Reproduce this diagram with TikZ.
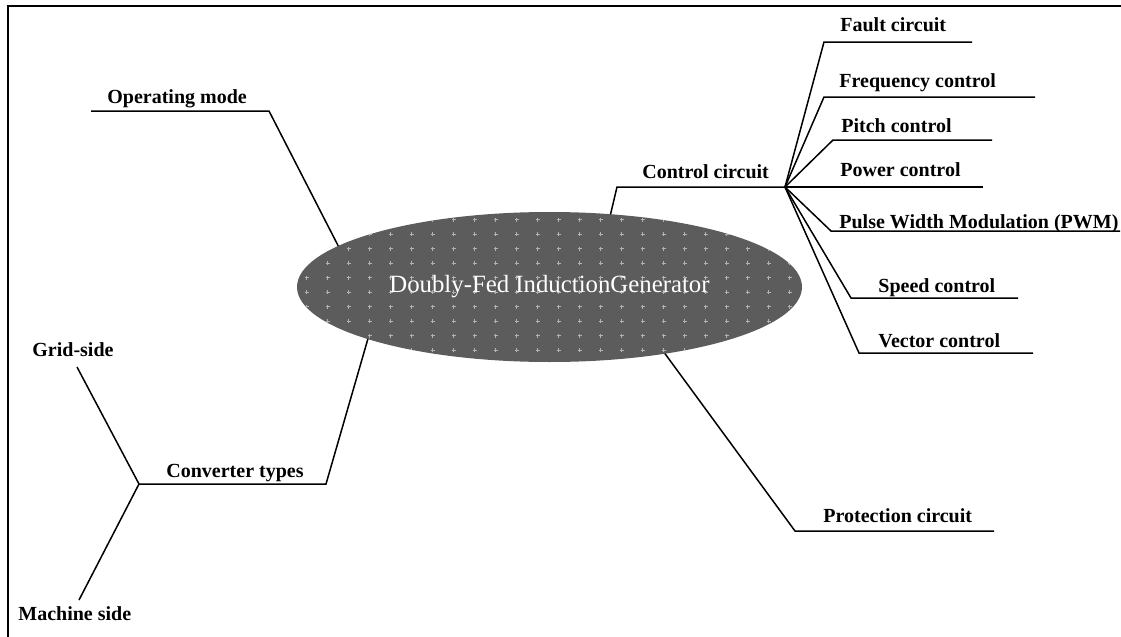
\documentclass[tikz,border=0pt]{standalone}
\usepackage{fontspec}
\setmainfont{Liberation Serif}
\usetikzlibrary{shapes.geometric}

\begin{document}
\begin{tikzpicture}
    [%%%%%%%%%%%%%%%%%%%%%%%%%%%%%%
        x=0.5pt, y=-0.5pt,
        leaf/.style={anchor=base west, inner sep=0pt, font=\fontsize{10}{12}\selectfont\bfseries},
        branch/.style={draw=black, line width=0.75pt},
        gen/.style={ellipse, inner sep=0pt, outer sep=0pt, minimum width=252.5pt, minimum height=75pt,
                    text=white, font=\fontsize{12.4}{14}\selectfont},
    ]%%%%%%%%%%%%%%%%%%%%%%%%%%%%%%
    \useasboundingbox (0,0) rectangle (1121,637);
    \draw[line width=1.4pt] (8,637) -- (8,6) -- (1121,6);

    % generator
    \fill[black!64] (549.5,287) ellipse [x radius=126.25pt, y radius=37.5pt];
    \begin{scope}
        \clip (549.5,287) ellipse [x radius=126.25pt, y radius=37.5pt];
        \foreach \i in {-1,...,24}
            \foreach \j in {0,...,10}
                \draw[black!30, line width=0.3pt]
                    (306.7+21*\i-2,219.5+14.5*\j) -- ++(4,0)
                    (306.7+21*\i,219.5+14.5*\j-2) -- ++(0,4);
    \end{scope}
    \node[gen] (dfig) at (549.5,287) {Doubly-Fed InductionGenerator};

    % left side
    \node[leaf] (opmode) at (107,103) {Operating mode};
    \coordinate (opmode-a) at (91,111);
    \coordinate (opmode-b) at (269,111);
    \draw[branch] (opmode-a) -- (opmode-b) -- (dfig.169);

    \node[leaf] (conv) at (166,477) {Converter types};
    \coordinate (conv-a) at (139,484);
    \coordinate (conv-b) at (326,484);
    \draw[branch] (dfig.196.45) -- (conv-b) -- (conv-a);

    \node[leaf] (grid) at (32,356) {Grid-side};
    \coordinate (grid-a) at (77,367);
    \draw[branch] (grid-a) -- (conv-a);

    \node[leaf] (machine) at (18,620) {Machine side};
    \coordinate (machine-a) at (79,600);
    \draw[branch] (conv-a) -- (machine-a);

    % protection
    \node[leaf] (prot) at (823,522) {Protection circuit};
    \coordinate (prot-a) at (795,531);
    \coordinate (prot-b) at (994,531);
    \draw[branch] (dfig.330.3) -- (prot-a) -- (prot-b);

    % control
    \node[leaf] (ctrl) at (642,178) {Control circuit};
    \coordinate (ctrl-a) at (617,187);
    \coordinate (hub) at (785,187);
    \draw[branch] (dfig.50.3) -- (ctrl-a) -- (hub);

    \node[leaf] (fault) at (840,32) {Fault circuit};
    \coordinate (fault-a) at (824,42);
    \coordinate (fault-b) at (972,42);
    \draw[branch] (hub) -- (fault-a) -- (fault-b);

    \node[leaf] (freq) at (839,87) {Frequency control};
    \coordinate (freq-a) at (824,97);
    \coordinate (freq-b) at (1035,97);
    \draw[branch] (hub) -- (freq-a) -- (freq-b);

    \node[leaf] (pitch) at (841,132) {Pitch control};
    \coordinate (pitch-a) at (833,140);
    \coordinate (pitch-b) at (992,140);
    \draw[branch] (hub) -- (pitch-a) -- (pitch-b);

    \node[leaf] (power) at (840,176) {Power control};
    \coordinate (power-b) at (983,187);
    \draw[branch] (hub) -- (power-b);

    \node[leaf] (pwm) at (839,228) {Pulse Width Modulation (PWM)};
    \coordinate (pwm-a) at (831,231);
    \coordinate (pwm-b) at (1120,231);
    \draw[branch] (hub) -- (pwm-a) -- (pwm-b);

    \node[leaf] (speed) at (878,292) {Speed control};
    \coordinate (speed-a) at (851,298);
    \coordinate (speed-b) at (1018,298);
    \draw[branch] (hub) -- (speed-a) -- (speed-b);

    \node[leaf] (vector) at (878,347) {Vector control};
    \coordinate (vector-a) at (859,353);
    \coordinate (vector-b) at (1033,353);
    \draw[branch] (hub) -- (vector-a) -- (vector-b);

\end{tikzpicture}
\end{document}
